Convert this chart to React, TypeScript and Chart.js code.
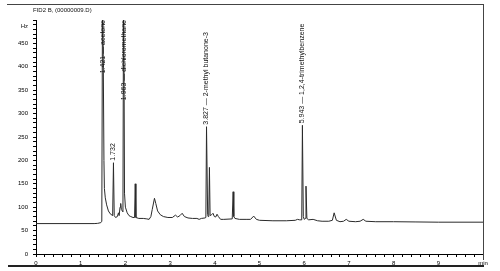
import React, { useEffect, useRef } from 'react';
import { Chart, registerables } from 'chart.js';

Chart.register(...registerables);

// ---- data ----
const signalTimes = [
  0, 1.3, 1.38, 1.45, 1.472, 1.49, 1.52, 1.53, 1.55, 1.58, 1.62, 1.66, 1.7,
  1.715, 1.733, 1.75, 1.78, 1.82, 1.845, 1.86, 1.88, 1.895, 1.91,
  1.945, 1.96, 1.98, 2.0, 2.04, 2.08, 2.12, 2.17,
  2.205, 2.22, 2.235, 2.3, 2.4, 2.48, 2.53, 2.57, 2.6, 2.65, 2.68, 2.72, 2.78, 2.85, 2.95, 3.05,
  3.12, 3.17, 3.22, 3.27, 3.32, 3.4, 3.5, 3.6, 3.65, 3.7, 3.78,
  3.8, 3.815, 3.84, 3.85, 3.865, 3.88, 3.895, 3.93, 3.96, 3.99, 4.02, 4.05, 4.08, 4.13, 4.2,
  4.39, 4.41, 4.425, 4.45, 4.55, 4.7, 4.8, 4.87, 4.93, 5.0, 5.3, 5.6, 5.8, 5.85, 5.9,
  5.945, 5.96, 5.98, 6.0, 6.025, 6.04, 6.06, 6.1, 6.2, 6.3, 6.4, 6.55,
  6.63, 6.67, 6.72, 6.8, 6.88, 6.94, 7.0, 7.15, 7.25, 7.32, 7.38, 7.6, 8.0, 8.5, 9.0, 10,
];
const signalValues = [
  65, 65, 65.5, 67, 70, 620, 200, 140, 120, 105, 92, 86, 83,
  82, 195, 82, 78, 80, 88, 82, 100, 108, 95,
  90, 640, 130, 100, 88, 82, 80, 78,
  78, 150, 78, 76, 76, 75, 74, 80, 95, 119, 108, 92, 84, 80, 78, 78,
  83, 79, 82, 87, 80, 77, 76, 76, 74, 76, 77,
  78, 272, 85, 80, 82, 185, 82, 84, 87, 80, 79, 85, 80, 74, 74,
  75, 133, 80, 76, 74, 74, 74, 81, 74, 72, 71, 71, 72, 74, 73,
  73, 275, 80, 74, 76, 145, 76, 73, 74, 71, 70, 70,
  72, 88, 72, 69, 70, 74, 70, 69, 70, 74, 70, 69, 69, 68.5, 68, 68,
];

const peakRetention = ['1.421', '1.732', '1.963', '3.827', '5.943'];
const peakApexTimes = [1.49, 1.733, 1.96, 3.815, 5.96];
const peakNames = ['acetone', '', 'dichloromethane', '2-methyl butanone-3', '1,2,4-trimethylbenzene'];

const titleText = 'FID2 B, (00000009.D)';
const yUnit = 'Hz';
const xUnit = 'min';
const yMax = 500;
const xMax = 10;

const FONT = "'Liberation Sans', Arial, sans-serif";

const framePlugin = {
  id: 'frame',
  afterDraw(chart: any) {
    const { ctx, chartArea, scales } = chart;
    ctx.save();
    // frame lines
    ctx.strokeStyle = '#444';
    ctx.lineWidth = 1;
    ctx.beginPath();
    ctx.moveTo(7, 4.5);
    ctx.lineTo(484, 4.5);
    ctx.moveTo(chartArea.right + 0.5, 4);
    ctx.lineTo(chartArea.right + 0.5, 260);
    ctx.stroke();
    ctx.strokeStyle = '#222';
    ctx.lineWidth = 2;
    ctx.beginPath();
    ctx.moveTo(8, 266);
    ctx.lineTo(484, 266);
    ctx.stroke();
    // title
    ctx.fillStyle = '#111';
    ctx.font = `6px ${FONT}`;
    ctx.textAlign = 'left';
    ctx.textBaseline = 'middle';
    ctx.fillText(titleText, 33, 10);
    // y unit at top of axis
    ctx.textAlign = 'right';
    ctx.fillText(yUnit, scales.y.left + scales.y.width - 8, scales.y.getPixelForValue(yMax) + 6.5);
    ctx.restore();
  },
};

const peakLabelPlugin = {
  id: 'peakLabels',
  afterDatasetsDraw(chart: any) {
    const { ctx, chartArea, scales } = chart;
    const xs = scales.x;
    const ys = scales.y;
    ctx.save();
    ctx.font = `7px ${FONT}`;
    ctx.fillStyle = '#111';
    ctx.textAlign = 'left';
    ctx.textBaseline = 'middle';
    peakApexTimes.forEach((t, i) => {
      const idx = signalTimes.indexOf(t);
      const v = signalValues[idx];
      const text = peakNames[i] ? `${peakRetention[i]} \u2014 ${peakNames[i]}` : peakRetention[i];
      const w = ctx.measureText(text).width;
      const px = xs.getPixelForValue(t);
      const apexPx = ys.getPixelForValue(Math.min(v, yMax));
      let bottom = apexPx - 2;
      if (bottom - w < chartArea.top) bottom = chartArea.top + w;
      ctx.save();
      ctx.translate(px, bottom);
      ctx.rotate(-Math.PI / 2);
      ctx.fillText(text, 0, 0);
      ctx.restore();
    });
    ctx.restore();
  },
};

export default function App() {
  const canvasRef = useRef<HTMLCanvasElement | null>(null);

  useEffect(() => {
    if (!canvasRef.current) return;
    const points = signalTimes.map((t, i) => ({ x: t, y: signalValues[i] }));
    const isInt = (v: number) => Math.abs(v - Math.round(v)) < 1e-6;
    const chart = new Chart(canvasRef.current, {
      type: 'line',
      data: {
        datasets: [
          {
            data: points,
            borderColor: '#2a2a2a',
            borderWidth: 1,
            pointRadius: 0,
            tension: 0,
            fill: false,
          },
        ],
      },
      options: {
        animation: false,
        responsive: false,
        devicePixelRatio: 1,
        layout: { padding: { left: 0, right: 17, top: 20, bottom: 0 } },
        plugins: { legend: { display: false }, tooltip: { enabled: false }, title: { display: false } },
        scales: {
          x: {
            type: 'linear',
            min: 0,
            max: xMax,
            afterFit(s: any) {
              s.height = 17;
            },
            ticks: {
              stepSize: 0.2,
              autoSkip: false,
              maxRotation: 0,
              minRotation: 0,
              padding: 3,
              color: '#000',
              font: { size: 6, family: FONT },
              callback: (v: any) => {
                const n = Number(v);
                if (!isInt(n)) return '';
                if (Math.round(n) === xMax) return xUnit;
                return String(Math.round(n));
              },
            },
            grid: { drawOnChartArea: false, drawTicks: true, tickLength: 3, color: '#000', tickColor: '#000' },
            border: { display: true, color: '#000', width: 1 },
          },
          y: {
            type: 'linear',
            min: 0,
            max: yMax,
            afterFit(s: any) {
              s.width = 36;
            },
            ticks: {
              stepSize: 10,
              autoSkip: false,
              padding: 5,
              color: '#000',
              font: { size: 6, family: FONT },
              callback: (v: any) => {
                const n = Math.round(Number(v));
                if (n % 50 !== 0 || n === yMax) return '';
                return String(n);
              },
            },
            grid: { drawOnChartArea: false, drawTicks: true, tickLength: 3, color: '#000', tickColor: '#000' },
            border: { display: true, color: '#000', width: 1 },
          },
        },
      },
      plugins: [peakLabelPlugin, framePlugin],
    } as any);
    return () => chart.destroy();
  }, []);

  return (
    <div style={{ position: 'absolute', left: 0, top: 0, width: 500, height: 271, background: '#fff' }}>
      <canvas ref={canvasRef} width={500} height={271} style={{ display: 'block', width: 500, height: 271 }} />
    </div>
  );
}
